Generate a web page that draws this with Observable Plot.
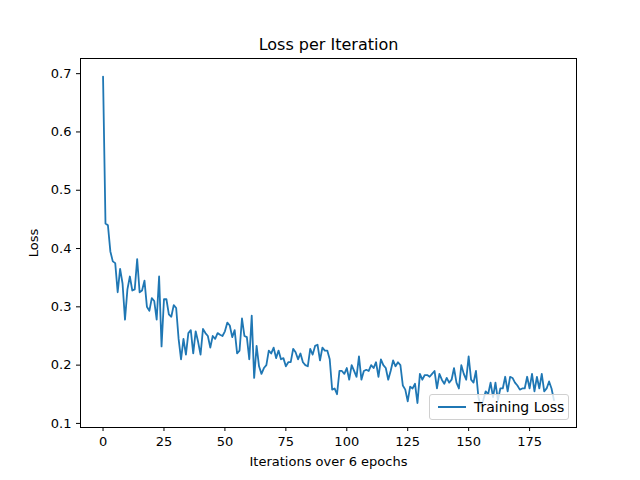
<!DOCTYPE html>
<html><head><meta charset="utf-8">
<script src="https://cdn.jsdelivr.net/npm/d3@7"></script>
<script src="https://cdn.jsdelivr.net/npm/@observablehq/plot@0.6"></script>
<style>
body{margin:0;background:#fff;font-family:"DejaVu Sans",sans-serif;}
#wrap{position:relative;width:640px;height:480px;}
#legend{position:absolute;left:429px;top:394px;width:140px;height:26px;border:1px solid #d0d0d0;border-radius:3px;background:rgba(255,255,255,0.8);font-size:14px;display:flex;align-items:center;box-sizing:border-box;}
#legend span.l{display:inline-block;width:28px;height:0;border-top:2px solid #1f77b4;margin:0 8px 0 8px;}
</style></head>
<body><div id="wrap"></div>
<script>
const losses = [0.695,0.443,0.44,0.395,0.378,0.375,0.325,0.365,0.34,0.278,0.33,0.352,0.328,0.33,0.382,0.325,0.328,0.345,0.3,0.293,
0.315,0.31,0.278,0.352,0.232,0.313,0.313,0.287,0.283,0.303,0.298,0.245,0.21,0.245,0.218,0.255,0.26,0.22,0.258,0.24,
0.218,0.262,0.255,0.25,0.23,0.25,0.245,0.255,0.252,0.25,0.258,0.273,0.268,0.248,0.26,0.22,0.225,0.28,0.25,0.248,
0.21,0.285,0.178,0.233,0.198,0.185,0.195,0.2,0.225,0.22,0.23,0.212,0.225,0.21,0.212,0.198,0.205,0.205,0.228,0.222,
0.21,0.22,0.205,0.2,0.198,0.228,0.218,0.233,0.235,0.208,0.23,0.225,0.225,0.21,0.158,0.16,0.15,0.19,0.19,0.185,
0.195,0.175,0.2,0.19,0.18,0.215,0.175,0.19,0.192,0.19,0.2,0.195,0.205,0.18,0.21,0.2,0.195,0.175,0.19,0.208,
0.198,0.205,0.2,0.165,0.158,0.138,0.163,0.16,0.168,0.135,0.185,0.175,0.183,0.183,0.18,0.185,0.19,0.16,0.185,0.175,
0.168,0.178,0.17,0.175,0.195,0.17,0.16,0.2,0.185,0.175,0.215,0.175,0.17,0.19,0.145,0.13,0.14,0.155,0.15,0.17,
0.145,0.17,0.14,0.16,0.16,0.18,0.155,0.18,0.178,0.17,0.165,0.158,0.16,0.16,0.18,0.16,0.185,0.155,0.18,0.16,
0.185,0.155,0.16,0.172,0.16,0.14];
const xTicks = [0,25,50,75,100,125,150,175];
const yTicks = [0.1,0.2,0.3,0.4,0.5,0.6,0.7];
const data = losses.map((v,i)=>({i,v}));
const chart = Plot.plot({
  width:640,height:480,marginLeft:80,marginRight:64,marginTop:58,marginBottom:53,
  style:{fontFamily:"DejaVu Sans",fontSize:"13px",color:"#000",background:"#fff"},
  x:{domain:[-9.25,194.25],ticks:xTicks,label:"Iterations over 6 epochs",labelAnchor:"center",labelArrow:"none",labelOffset:38,tickSize:4},
  y:{domain:[0.093,0.726],ticks:yTicks,tickFormat:d3.format(".1f"),label:"Loss",labelAnchor:"center",labelArrow:"none",labelOffset:52,tickSize:4},
  marks:[
    Plot.frame({stroke:"#000"}),
    Plot.line(data,{x:"i",y:"v",stroke:"#1f77b4",strokeWidth:1.8}),
    Plot.text(["Loss per Iteration"],{frameAnchor:"top",dy:-20,fontSize:16,text:d=>d})
  ]
});
document.getElementById("wrap").appendChild(chart);
const lg=document.createElement("div");lg.id="legend";lg.innerHTML='<span class="l"></span>Training Loss';
document.getElementById("wrap").appendChild(lg);
</script></body></html>
